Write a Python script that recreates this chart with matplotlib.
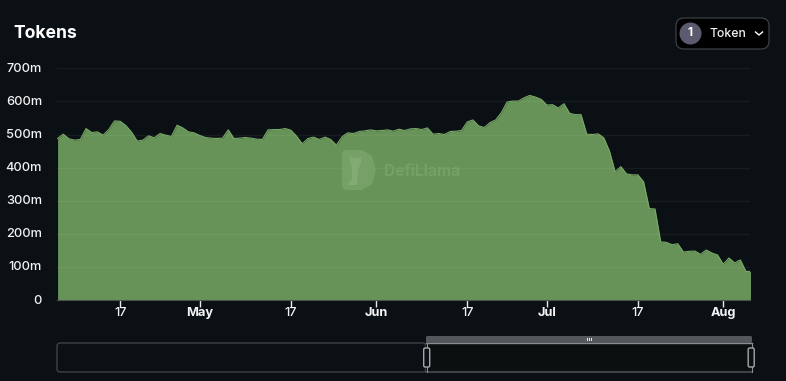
import matplotlib
matplotlib.use("Agg")
import matplotlib.pyplot as plt
import matplotlib.dates as mdates
import pandas as pd
from matplotlib.patches import FancyBboxPatch, Circle, Rectangle, Polygon
from matplotlib.lines import Line2D
from matplotlib.transforms import ScaledTranslation

W, H = 786, 381
BG = "#0b1014"
plt.rcParams["font.family"] = ["Inter", "DejaVu Sans"]

start_date = "2023-04-06"
token_values_m = [
    488, 501, 487, 483, 485, 518, 506, 508, 498, 515, 541, 540, 527, 507, 480, 483,
    496, 490, 503, 498, 494, 528, 520, 508, 505, 497, 491, 489, 488, 489, 514, 488,
    489, 491, 489, 486, 485, 514, 515, 515, 518, 513, 495, 472, 488, 492, 485, 492,
    485, 468, 493, 505, 503, 509, 511, 514, 511, 512, 514, 510, 516,
    512, 517, 518, 515, 520, 501, 503, 500, 509, 510, 512, 538, 544, 526, 521, 536,
    544, 566, 598, 601, 601, 611, 618, 613, 606, 589, 590, 580, 593, 564, 560, 560,
    501, 500, 502, 490, 450, 387, 403, 381, 378, 378, 357, 276, 275, 176, 174, 167,
    170, 145, 147, 148, 138, 151, 142, 136, 108, 127, 112, 121, 86, 87,
]
y_ticks = [0, 100, 200, 300, 400, 500, 600, 700]
y_labels = ["0", "100m", "200m", "300m", "400m", "500m", "600m", "700m"]
x_tick_dates = ["2023-04-17", "2023-05-01", "2023-05-17", "2023-06-01",
                "2023-06-17", "2023-07-01", "2023-07-17", "2023-08-01"]
x_tick_labels = ["17", "May", "17", "Jun", "17", "Jul", "17", "Aug"]
title = "Tokens"
button_count = "1"
button_label = "Token"
watermark = "DefiLlama"

dates = pd.date_range(start_date, periods=len(token_values_m), freq="D")

fig = plt.figure(figsize=(W / 100, H / 100), dpi=100, facecolor=BG)
x0, x1, ytop, ybot = 57, 750, 68.3, 300
ax = fig.add_axes([x0 / W, 1 - ybot / H, (x1 - x0) / W, (ybot - ytop) / H], facecolor=BG)
ax.fill_between(dates, token_values_m, 0, color="#679358", lw=0, zorder=2)
ax.plot(dates, token_values_m, color="#79aa67", lw=0.8, zorder=3)
ax.set_ylim(0, 700)
d0 = mdates.date2num(pd.Timestamp(start_date))
ax.set_xlim(d0 - 0.1, d0 + 121.7)
ax.set_yticks(y_ticks, y_labels)
ticks = [mdates.date2num(pd.Timestamp(d)) for d in x_tick_dates]
ax.set_xticks(ticks, x_tick_labels)
for t in ax.get_xticklabels():
    if t.get_text() != "17":
        t.set_fontweight("bold")
    else:
        t.set_fontweight(500)
ax.tick_params(axis="y", length=0, pad=10.8, labelcolor="#f4f4f4", labelsize=9.2)
ax.tick_params(axis="x", length=5, width=1, color="#e8e8e8", pad=0.3, labelcolor="#f4f4f4", labelsize=9.2)
shift = ScaledTranslation(0, 1.0 / 100, fig.dpi_scale_trans)
for t in ax.get_yticklabels():
    t.set_fontweight(500)
    t.set_transform(t.get_transform() + shift)
for s in ["top", "left", "right"]:
    ax.spines[s].set_visible(False)
ax.spines["bottom"].set_color("#4a4f52")
ax.spines["bottom"].set_zorder(5)
for v in y_ticks[1:]:
    ax.axhline(v, color="#ffffff", alpha=0.05, lw=1, zorder=4)

# Overlay in pixel coordinates for the interface furniture
ov = fig.add_axes([0, 0, 1, 1], facecolor="none")
ov.set_xlim(0, W)
ov.set_ylim(H, 0)
ov.axis("off")

ov.text(13, 33, title, color="white", fontsize=12.6, fontweight="bold", va="center", ha="left")

# Selector button
ov.add_patch(FancyBboxPatch((676, 18), 93, 31, boxstyle="round,pad=0,rounding_size=8",
                            fc="#000000", ec="#43474d", lw=0.8))
ov.add_patch(Circle((690.5, 33.5), 11, fc="#5a5b6e", ec="none"))
ov.text(690.5, 33.5, button_count, color="white", fontsize=8.6, fontweight="bold", ha="center", va="center")
ov.text(709, 33.7, button_label, color="#f2f2f2", fontsize=8.8, fontweight=500, ha="left", va="center")
ov.add_line(Line2D([755.5, 759, 762.5], [32, 35, 32], color="white", lw=1.0))

# Watermark
wm = "#75a066"
wm2 = "#82ab73"
ov.add_patch(Polygon([(345, 150), (362, 150), (372, 156), (376, 170), (372, 184), (362, 190),
                      (345, 190), (342, 187), (342, 153)], closed=True, fc=wm, ec="none"))
ov.add_patch(Polygon([(350, 156), (353, 158), (358, 158), (361, 156), (361, 163), (358, 170),
                      (357, 185), (347, 185), (352, 179), (352, 168), (350, 163)],
                     closed=True, fc=wm2, ec="none"))
ov.text(384, 171, watermark, color=wm, fontsize=11.2, fontweight="bold", ha="left", va="center")

# Range slider
ov.add_patch(FancyBboxPatch((57, 343), 369, 29, boxstyle="round,pad=0,rounding_size=3",
                            fc="none", ec="#3f4346", lw=1))
ov.add_patch(Rectangle((426, 343), 326, 29, fc="#0a0f10", ec="none", zorder=3))
ov.add_line(Line2D([426, 752], [372, 372], color="#45494b", lw=1.3, zorder=4))
ov.add_line(Line2D([426, 752], [343, 343], color="#8a8d8e", lw=1, zorder=4))
ov.add_line(Line2D([426.5, 426.5], [343, 372], color="#8a8d8e", lw=0.8, zorder=4))
ov.add_line(Line2D([751.5, 751.5], [343, 372], color="#8a8d8e", lw=0.8, zorder=4))
ov.add_patch(FancyBboxPatch((426, 336), 326, 7, boxstyle="round,pad=0,rounding_size=1.5",
                            fc="#54585a", ec="none", zorder=5))
for px in (586.5, 588.7, 590.9):
    ov.add_patch(Rectangle((px, 337.5), 1.3, 3.5, fc="#e8e8e8", ec="none", zorder=6))
for hx in (423.7, 748.2):
    ov.add_patch(FancyBboxPatch((hx, 348), 6, 19, boxstyle="round,pad=0,rounding_size=1.5",
                                fc=BG, ec="#a6a8a9", lw=1, zorder=6))

fig.savefig("out.png", dpi=100, facecolor=BG)
